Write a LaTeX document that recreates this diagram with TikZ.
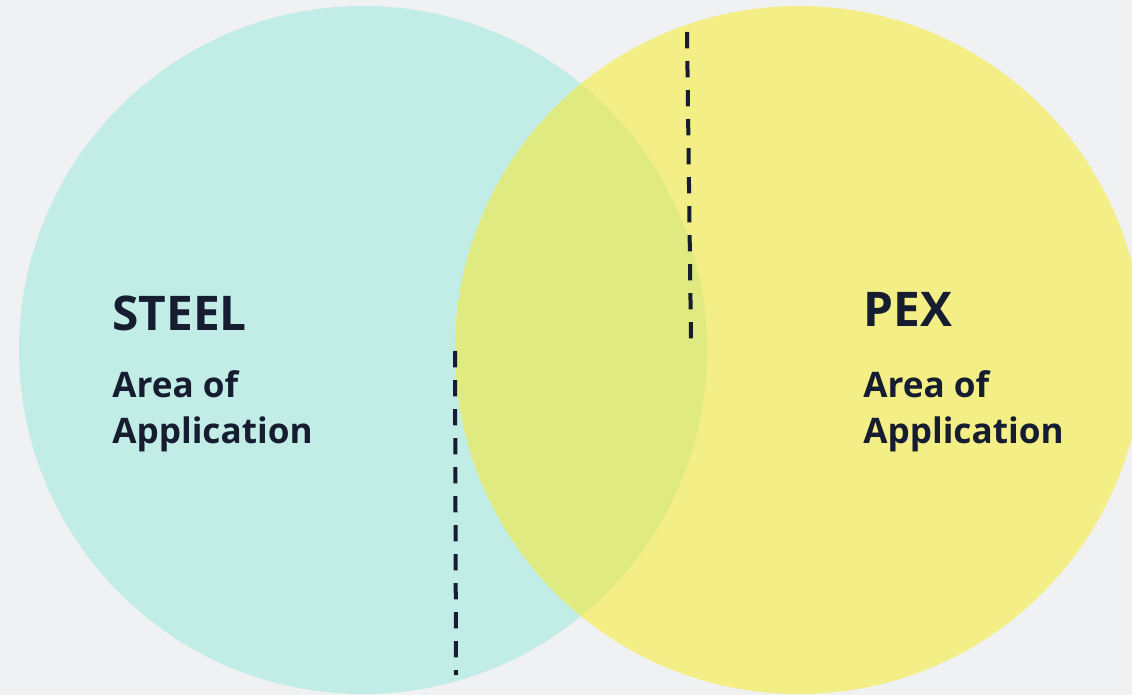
\documentclass[tikz,border=0pt]{standalone}
\usepackage{fontspec}
\setmainfont{Open Sans}
\usepackage{tikz}
\definecolor{bggray}{RGB}{240,241,243}
\definecolor{steelteal}{RGB}{194,236,230}
\definecolor{pexyellow}{RGB}{244,238,134}
\definecolor{mixgreen}{RGB}{223,234,128}
\definecolor{inknavy}{RGB}{22,29,48}
\tikzset{
	titletext/.style={anchor=base west, inner sep=0pt, text=inknavy, font=\bfseries\fontsize{34}{40}\selectfont},
	bodytext/.style={anchor=base west, inner sep=0pt, text=inknavy, font=\bfseries\fontsize{25}{30}\selectfont},
	divider/.style={draw=inknavy, line width=0.1cm, line cap=butt, dash pattern=on 0.41cm off 0.315cm}
}
\newcommand{\areablock}[5] % name, x, title baseline, body baseline, title (pixel units)
{
	\node[titletext] (#1title) at (#2,#3) {#5};
	\node[bodytext] (#1area) at (#2,#4) {Area of};
	\node[bodytext] (#1appl) at (#2,#4+45) {Application};
}

\begin{document}
\begin{tikzpicture}[x=0.025cm, y=-0.025cm]
	% canvas: 1132 x 695 px
	\useasboundingbox (0,0) rectangle (1132,695);
	\clip (0,0) rectangle (1132,695);
	\fill[bggray] (0,0) rectangle (1132,695);
	% the two sets
	\fill[steelteal] (363,350) circle (344);
	\fill[pexyellow] (799,350) circle (344);
	% overlap of both
	\begin{scope}
		\clip (363,350) circle (344);
		\fill[mixgreen] (799,350) circle (344);
	\end{scope}
	% dashed dividers
	\coordinate (upA) at (687,32);
	\coordinate (upB) at (691,339);
	\coordinate (lowA) at (455,351);
	\coordinate (lowB) at (456,675);
	\draw[divider] (upA) -- (upB);
	\draw[divider] (lowA) -- (lowB);
	% labels
	\areablock{steel}{112}{331}{398}{STEEL};
	\areablock{pex}{863}{327}{398}{PEX};
\end{tikzpicture}
\end{document}
